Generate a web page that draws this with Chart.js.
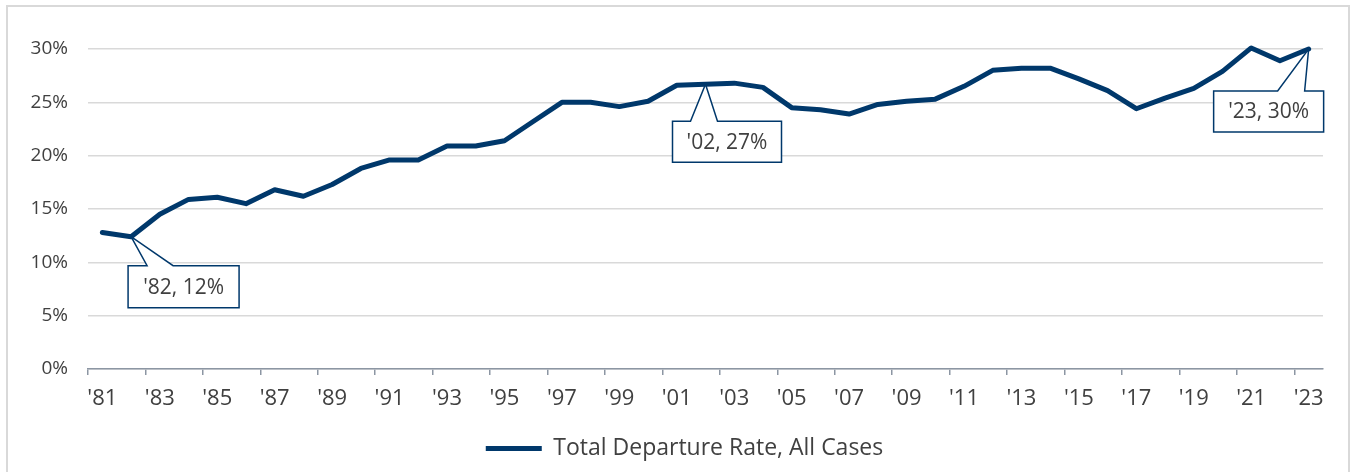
<!DOCTYPE html>
<html>
<head>
<meta charset="utf-8">
<script src="https://cdn.jsdelivr.net/npm/chart.js"></script>
<style>
  html, body { margin: 0; padding: 0; background: #fff; overflow: hidden; }
  #wrap { position: relative; width: 1353px; height: 472px; }
  #frame { position: absolute; left: 6px; top: 5px; width: 1344px; height: 480px; border: 2px solid #d9d9d9; box-sizing: border-box; pointer-events: none; }
  canvas { position: absolute; left: 0; top: 0; }
</style>
</head>
<body>
<div id="wrap">
  <canvas id="chart" width="1353" height="472"></canvas>
  <div id="frame"></div>
</div>
<script>
// years '81 .. '23
const years = ["81","82","83","84","85","86","87","88","89","90","91","92","93","94","95","96","97","98","99","00","01","02","03","04","05","06","07","08","09","10","11","12","13","14","15","16","17","18","19","20","21","22","23"];
// total departure rate, percent
const departureRate = [12.8, 12.4, 14.5, 15.9, 16.1, 15.5, 16.8, 16.2, 17.3, 18.8, 19.6, 19.6, 20.9, 20.9, 21.4, 23.2, 25.0, 25.0, 24.6, 25.1, 26.6, 26.7, 26.8, 26.4, 24.5, 24.3, 23.9, 24.8, 25.1, 25.3, 26.5, 28.0, 28.2, 28.2, 27.2, 26.1, 24.4, 25.4, 26.3, 27.9, 30.1, 28.9, 30.0];
const yTicks = [0, 5, 10, 15, 20, 25, 30];
const seriesName = "Total Departure Rate, All Cases";

const navy = "#00386b";
const font = "'Open Sans', 'Noto Sans', sans-serif";

// callouts: which point, and where the box sits relative to it
const callouts = [
  { index: 1,  dx: -3,  dy: 29, w: 111, h: 42, wa: 16,  wb: 42 },
  { index: 21, dx: -33, dy: 37, w: 109, h: 41, wa: -15, wb: 12 },
  { index: 42, dx: -95, dy: 42, w: 110, h: 41, wa: -31, wb: -4 }
];

const calloutPlugin = {
  id: "callouts",
  afterLayout(chart) {
    // nudge the legend a bit right, like the original
    chart.legend.left += 23;
    chart.legend.right += 23;
  },
  afterDatasetsDraw(chart) {
    const ctx = chart.ctx;
    const meta = chart.getDatasetMeta(0);
    ctx.save();
    callouts.forEach(c => {
      const pt = meta.data[c.index];
      const px = pt.x, py = pt.y;
      const bx = px + c.dx, by = py + c.dy;
      ctx.lineWidth = 1.5;
      ctx.strokeStyle = navy;
      ctx.fillStyle = "#fff";
      ctx.beginPath();
      ctx.moveTo(bx, by);
      ctx.lineTo(px + c.wa, by);
      ctx.lineTo(px, py);
      ctx.lineTo(px + c.wb, by);
      ctx.lineTo(bx + c.w, by);
      ctx.lineTo(bx + c.w, by + c.h);
      ctx.lineTo(bx, by + c.h);
      ctx.closePath();
      ctx.fill();
      ctx.stroke();
      ctx.fillStyle = "#404040";
      ctx.font = "21px " + font;
      ctx.textAlign = "center";
      ctx.textBaseline = "middle";
      const txt = "'" + years[c.index] + ", " + Math.round(departureRate[c.index]) + "%";
      ctx.fillText(txt, bx + c.w / 2, by + c.h / 2 + 1);
    });
    ctx.restore();
  }
};

new Chart(document.getElementById("chart"), {
  type: "line",
  data: {
    labels: years.map(y => "'" + y),
    datasets: [{
      label: seriesName,
      data: departureRate,
      borderColor: navy,
      backgroundColor: navy,
      borderWidth: 5,
      borderCapStyle: "round",
      borderJoinStyle: "round",
      pointRadius: 0,
      tension: 0,
      clip: false
    }]
  },
  options: {
    responsive: false,
    animation: false,
    devicePixelRatio: 1,
    layout: { padding: { top: 49, right: 30, bottom: 2, left: 0 } },
    plugins: {
      tooltip: { enabled: false },
      legend: {
        position: "bottom",
        labels: {
          usePointStyle: true,
          pointStyle: "line",
          pointStyleWidth: 56,
          color: "#404040",
          font: { family: font, size: 23 },
          padding: 11
        }
      }
    },
    scales: {
      x: {
        offset: true,
        afterFit: s => { s.height = 57; },
        grid: {
          offset: true,
          drawOnChartArea: false,
          drawTicks: true,
          tickLength: 6,
          lineWidth: 1.5,
          color: c => (c.index % 2 === 0 ? "#8c96a3" : "rgba(0,0,0,0)")
        },
        border: { display: true, color: "#8c96a3", width: 1.5 },
        ticks: {
          autoSkip: false,
          maxRotation: 0,
          padding: 11,
          color: "#404040",
          font: { family: font, size: 22 },
          callback: (v, i) => (i % 2 === 0 ? "'" + years[i] : "")
        }
      },
      y: {
        min: yTicks[0],
        max: yTicks[yTicks.length - 1],
        afterFit: s => { s.width = 88; },
        afterBuildTicks: s => { s.ticks = yTicks.map(v => ({ value: v })); },
        grid: { color: "#d9d9d9", lineWidth: 1.5, drawTicks: false },
        border: { display: false },
        ticks: {
          padding: 20,
          color: "#404040",
          font: { family: font, size: 19 },
          callback: v => v + "%"
        }
      }
    }
  },
  plugins: [calloutPlugin]
});
</script>
</body>
</html>
